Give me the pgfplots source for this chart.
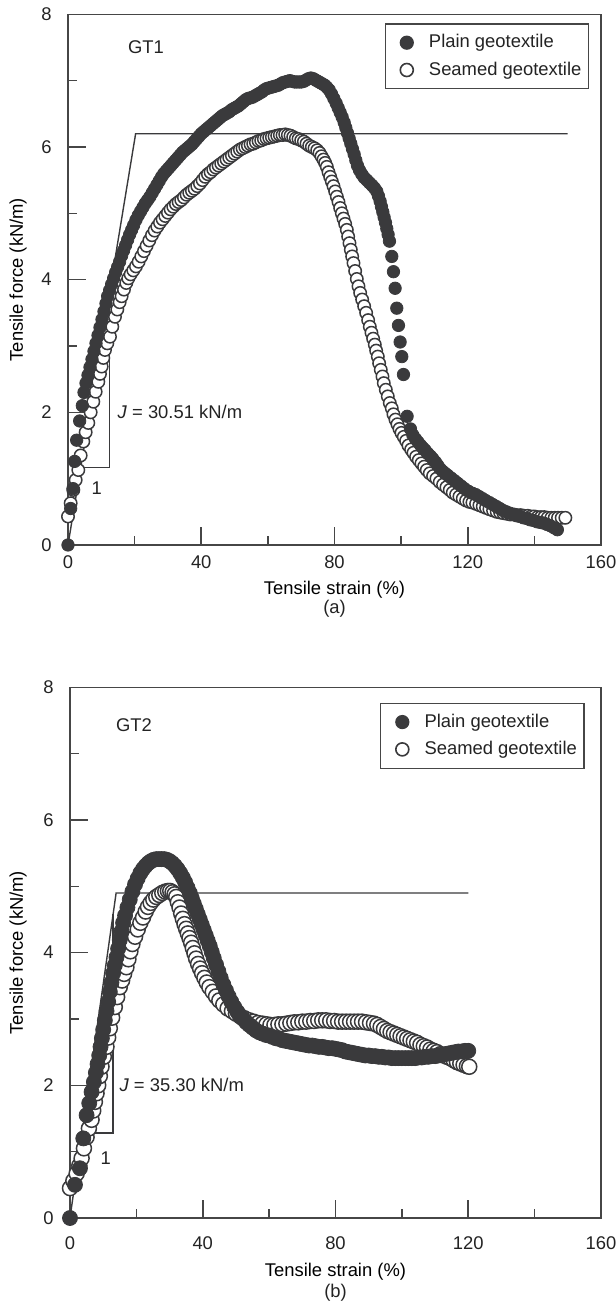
\documentclass[border=0pt]{standalone}
\usepackage{fontspec}
\setmainfont{Liberation Sans}
\usepackage{pgfplots}
\pgfplotsset{compat=1.18}
\definecolor{mk}{RGB}{58,58,60}
\definecolor{ax}{RGB}{70,70,70}
\definecolor{tx}{RGB}{35,35,35}
\newcommand{\fs}{\fontsize{9.2bp}{11bp}\selectfont}
\pgfplotsset{
 geo/.style={
  scale only axis, height=265.35bp,
  xmin=0,xmax=160,ymin=0,ymax=8,
  xtick={0,40,80,120,160}, ytick={0,2,4,6,8},
  minor x tick num=1, minor y tick num=1,
  tick align=inside, tick pos=left,
  major tick length=9bp, minor tick length=4.5bp,
  axis line style={draw=ax, line width=0.8bp},
  every tick/.style={draw=ax, line width=0.8bp},
  clip=false,
  /pgf/number format/assume math mode=true,
  tick label style={font=\fs, text=tx},
  yticklabel style={anchor=east, inner sep=0pt, xshift=-8bp},
  label style={font=\fs, text=tx},
  every axis x label/.style={at={(axis description cs:0.5,0)}, anchor=base},
  xlabel={Tensile strain (\%)}, ylabel={Tensile force (kN/m)},
  legend cell align=left,
  legend style={draw=ax, line width=0.6bp, font=\fs, text=tx, anchor=north east,
    inner xsep=0.5bp, inner ysep=4.3bp, row sep=3.5bp,
    nodes={inner xsep=3bp, inner ysep=1bp}},
  legend image code/.code={\path (-10bp,0bp) (7.8bp,0bp); \draw[#1] plot coordinates {(0bp,0bp)};},
 }
}
\begin{document}
\begin{tikzpicture}[font=\fs]
\path[use as bounding box] (0,0) rectangle (308bp,650.5bp);
% ---------------- (a) GT1 ----------------
\begin{axis}[geo, at={(34bp,378bp)}, anchor=south west, width=266.5bp,
  xticklabel style={anchor=base, yshift=-11.65bp},
  every axis x label/.append style={yshift=-25bp},
  every axis y label/.style={at={(axis description cs:0,0.5)}, xshift=-25bp, rotate=90, anchor=center},
  legend style={at={(0.9775,0.983)}}]
\addlegendimage{only marks, mark=*, mark size=3.25bp, mark options={draw=mk, fill=mk}}
\addlegendentry{Plain geotextile}
\addlegendimage{only marks, mark=*, mark size=3.25bp, mark options={draw=mk, fill=white, line width=0.8bp}}
\addlegendentry{Seamed geotextile}
\addplot[forget plot, draw=mk, line width=0.7bp] coordinates {(0,0) (20.3,6.2) (150,6.2)};
\addplot[forget plot, draw=mk, line width=0.7bp] coordinates {(3.83,1.17) (12.4,1.17) (12.4,3.78)};
% seamed geotextile
\addplot[forget plot, only marks, mark=*, mark size=3.1bp, mark options={draw=mk, fill=white, line width=0.75bp}] coordinates {
(0,0.43) (0.8,0.63) (1.6,0.83) (2.3,0.98) (3.1,1.13) (3.8,1.35) (4.6,1.56) (5.3,1.7) (6.1,1.84) (6.8,2.0)
(7.6,2.16) (8.3,2.31) (9.1,2.46) (9.6,2.58) (10.1,2.69) (10.6,2.82) (11.1,2.94) (11.8,3.04) (12.6,3.14) (13.3,3.29)
(14.1,3.44) (14.8,3.55) (15.5,3.66) (16.1,3.75) (16.8,3.85) (17.5,3.95) (18.1,4.02) (18.8,4.08) (19.6,4.14) (20.4,4.2)
(21.2,4.27) (22.0,4.35) (22.8,4.43) (23.6,4.51) (24.4,4.59) (25.2,4.67) (26.0,4.74) (26.8,4.8) (27.6,4.86) (28.4,4.91)
(29.2,4.96) (30.0,5.01) (30.8,5.06) (31.6,5.1) (32.4,5.14) (33.2,5.17) (34.0,5.2) (34.8,5.24) (35.6,5.28) (36.4,5.31)
(37.2,5.34) (38.0,5.37) (38.8,5.41) (39.6,5.45) (40.4,5.5) (41.2,5.55) (42.0,5.59) (42.8,5.62) (43.6,5.66) (44.4,5.69)
(45.2,5.72) (46.0,5.75) (46.8,5.78) (47.6,5.81) (48.4,5.84) (49.2,5.87) (50.0,5.9) (50.8,5.93) (51.6,5.96) (52.4,5.98)
(53.2,6.0) (54.0,6.02) (54.8,6.04) (55.6,6.05) (56.4,6.07) (57.2,6.09) (58.0,6.1) (58.8,6.12) (59.6,6.13) (60.4,6.14)
(61.2,6.15) (62.0,6.16) (62.8,6.17) (63.6,6.18) (64.4,6.18) (65.2,6.19) (66.0,6.18) (66.8,6.17) (67.6,6.15) (68.4,6.13)
(69.2,6.12) (70.0,6.1) (70.8,6.08) (71.6,6.05) (72.4,6.02) (73.2,6.0) (74.0,5.98) (74.8,5.95) (75.5,5.91) (76.1,5.86)
(76.7,5.81) (77.2,5.76) (77.7,5.7) (78.2,5.62) (78.7,5.55) (79.2,5.48) (79.7,5.41) (80.2,5.33) (80.7,5.25) (81.2,5.17)
(81.7,5.08) (82.2,5.0) (82.7,4.92) (83.2,4.84) (83.7,4.75) (84.1,4.65) (84.5,4.55) (84.9,4.45) (85.3,4.35) (85.7,4.25)
(86.2,4.13) (86.7,4.01) (87.2,3.9) (87.7,3.8) (88.3,3.7) (88.9,3.6) (89.5,3.5) (90.1,3.39) (90.6,3.29) (91.1,3.2)
(91.6,3.11) (92.1,3.02) (92.5,2.93) (93.0,2.84) (93.4,2.74) (93.9,2.64) (94.4,2.54) (94.8,2.44) (95.4,2.34) (96.0,2.24)
(96.6,2.14) (97.2,2.06) (97.7,1.97) (98.3,1.89) (98.9,1.82) (99.5,1.75) (100.1,1.69) (100.8,1.63) (101.5,1.57) (102.2,1.5)
(103.0,1.44) (103.7,1.39) (104.5,1.33) (105.3,1.28) (106.1,1.23) (106.9,1.18) (107.7,1.13) (108.6,1.08) (109.6,1.04) (110.6,1.0)
(111.6,0.95) (112.6,0.91) (113.6,0.87) (114.6,0.83) (115.5,0.79) (116.5,0.76) (117.5,0.73) (118.5,0.7) (119.5,0.67) (120.5,0.65)
(121.4,0.64) (122.5,0.62) (123.5,0.6) (124.5,0.58) (125.5,0.56) (126.5,0.54) (127.6,0.52) (128.7,0.5) (129.7,0.49) (130.7,0.48)
(131.8,0.47) (132.8,0.46) (133.8,0.46) (134.8,0.45) (135.9,0.45) (136.9,0.44) (138.0,0.44) (139.0,0.43) (140.0,0.43) (141.0,0.42)
(142.0,0.42) (143.0,0.42) (144.0,0.41) (145.1,0.41) (146.1,0.41) (147.1,0.41) (148.2,0.41) (149.3,0.41)
};
% plain geotextile
\addplot[forget plot, only marks, mark=*, mark size=3.1bp, mark options={draw=mk, fill=mk}] coordinates {
(0,0) (0.8,0.55) (1.5,0.85) (2.0,1.26) (2.6,1.58) (3.5,1.87) (4.3,2.1) (4.8,2.3) (5.4,2.44) (6.0,2.56)
(6.6,2.68) (7.2,2.8) (7.8,2.92) (8.4,3.04) (9.0,3.16) (9.6,3.28) (10.2,3.4) (10.8,3.52) (11.4,3.64) (11.9,3.75)
(12.5,3.84) (13.1,3.93) (13.7,4.02) (14.3,4.11) (14.9,4.19) (15.5,4.27) (16.1,4.36) (16.7,4.44) (17.3,4.52) (17.9,4.6)
(18.5,4.68) (19.1,4.75) (19.7,4.82) (20.4,4.9) (21.1,4.97) (21.8,5.03) (22.5,5.09) (23.2,5.15) (23.9,5.2) (24.6,5.25)
(25.3,5.31) (26.0,5.37) (26.7,5.43) (27.4,5.49) (28.1,5.55) (28.8,5.6) (29.5,5.64) (30.2,5.68) (30.9,5.72) (31.6,5.76)
(32.3,5.8) (33.0,5.84) (33.7,5.88) (34.4,5.92) (35.1,5.95) (35.8,5.98) (36.5,6.01) (37.2,6.04) (37.9,6.08) (38.6,6.12)
(39.3,6.16) (40.0,6.2) (40.7,6.23) (41.4,6.26) (42.1,6.29) (42.8,6.32) (43.5,6.35) (44.2,6.38) (44.9,6.41) (45.6,6.44)
(46.3,6.47) (47.0,6.49) (47.7,6.51) (48.4,6.53) (49.1,6.56) (49.8,6.58) (50.5,6.6) (51.2,6.62) (51.9,6.65) (52.6,6.68)
(53.3,6.71) (54.0,6.73) (54.7,6.74) (55.4,6.75) (56.1,6.77) (56.8,6.79) (57.5,6.81) (58.2,6.83) (58.9,6.86) (59.6,6.88)
(60.3,6.89) (61.0,6.9) (61.7,6.91) (62.4,6.92) (63.1,6.93) (63.8,6.95) (64.5,6.97) (65.2,6.98) (65.9,6.99) (66.6,7.0)
(67.3,6.99) (68.0,6.98) (68.7,6.98) (69.4,6.98) (70.1,6.98) (70.8,6.99) (71.5,7.01) (72.2,7.03) (72.9,7.04) (73.6,7.03)
(74.3,7.01) (75.0,6.99) (75.7,6.97) (76.4,6.95) (77.1,6.93) (77.7,6.9) (78.4,6.86) (79.1,6.8) (79.8,6.73) (80.5,6.66)
(81.1,6.59) (81.7,6.52) (82.3,6.45) (82.9,6.37) (83.4,6.29) (83.9,6.21) (84.4,6.13) (84.9,6.05) (85.4,5.97) (85.9,5.89)
(86.4,5.8) (86.9,5.72) (87.5,5.65) (88.2,5.59) (88.9,5.54) (89.7,5.5) (90.5,5.46) (91.3,5.42) (92.0,5.38) (92.7,5.33)
(93.2,5.26) (93.7,5.18) (94.1,5.1) (94.5,5.02) (94.9,4.94) (95.3,4.86) (95.7,4.77) (96.1,4.68) (96.5,4.58) (97.2,4.35)
(97.7,4.12) (98.2,3.87) (98.7,3.57) (99.2,3.31) (99.7,3.06) (100.2,2.84) (100.7,2.57) (101.8,1.94)
(102.8,1.75) (103.5,1.66) (104.3,1.6) (105.1,1.55) (105.9,1.5) (106.6,1.46) (107.2,1.43) (108.0,1.38) (108.8,1.34) (109.5,1.3)
(110.3,1.25) (111.0,1.2) (111.7,1.15) (112.5,1.11) (113.2,1.08) (114.0,1.05) (115.0,1.01) (116.0,0.97) (117.0,0.93) (118.0,0.89)
(119.0,0.85) (120.2,0.81) (121.4,0.78) (122.4,0.76) (123.4,0.73) (124.4,0.7) (125.4,0.67) (126.5,0.64) (127.5,0.61) (128.6,0.58)
(129.6,0.55) (130.6,0.52) (131.6,0.5) (132.6,0.48) (133.6,0.46) (134.7,0.44) (135.7,0.43) (136.7,0.41) (137.7,0.4) (138.7,0.38)
(139.7,0.37) (140.8,0.35) (141.8,0.34) (142.8,0.33) (143.8,0.31) (144.8,0.29) (145.9,0.26) (146.9,0.23)
};
\node[text=tx] at (axis cs:23.4,7.5) {GT1};
\node[text=tx, anchor=west, inner sep=0pt] at (axis cs:14.8,2.01) {\textit{J} = 30.51 kN/m};
\node[text=tx] at (axis cs:8.6,0.86) {1};
\node[text=tx, anchor=base] at ([yshift=-34.5bp]axis description cs:0.5,0) {(a)};
\end{axis}
% ---------------- (b) GT2 ----------------
\begin{axis}[geo, at={(35bp,41.5bp)}, anchor=south west, width=265.5bp,
  xticklabel style={anchor=base, yshift=-15.8bp},
  every axis x label/.append style={yshift=-29.2bp},
  every axis y label/.style={at={(axis description cs:0,0.5)}, xshift=-26bp, rotate=90, anchor=center},
  legend style={at={(0.969,0.971)}}]
\addlegendimage{only marks, mark=*, mark size=3.25bp, mark options={draw=mk, fill=mk}}
\addlegendentry{Plain geotextile}
\addlegendimage{only marks, mark=*, mark size=3.25bp, mark options={draw=mk, fill=white, line width=0.8bp}}
\addlegendentry{Seamed geotextile}
\addplot[forget plot, draw=mk, line width=0.7bp] coordinates {(0,0) (13.9,4.9) (120,4.9)};
\addplot[forget plot, draw=mk, line width=0.7bp] coordinates {(3.63,1.28) (13.0,1.28) (13.0,4.59)};
% seamed geotextile
\addplot[forget plot, only marks, mark=*, mark size=3.75bp, mark options={draw=mk, fill=white, line width=0.75bp}] coordinates {
(0,0.45) (1.0,0.56) (2.0,0.67) (2.8,0.79) (3.5,0.9) (4.2,1.05) (5.0,1.22) (5.7,1.35) (6.5,1.48) (7.0,1.62)
(7.5,1.75) (8.0,1.88) (8.5,2.0) (9.0,2.14) (9.5,2.28) (10.2,2.43) (11.0,2.58) (11.5,2.72) (12.0,2.86) (12.7,3.02)
(13.5,3.18) (14.2,3.33) (15.0,3.48) (15.7,3.58) (16.3,3.68) (17.0,3.78) (17.6,3.9) (18.2,4.02) (18.8,4.13) (19.6,4.24)
(20.4,4.35) (21.2,4.45) (22.0,4.53) (22.8,4.62) (23.5,4.69) (24.3,4.75) (25.1,4.8) (26.0,4.84) (26.9,4.87) (27.8,4.9)
(28.7,4.92) (29.5,4.93) (30.2,4.93) (30.9,4.91) (31.5,4.88) (32.0,4.84) (32.5,4.76) (33.0,4.68) (33.5,4.59) (34.0,4.51)
(34.5,4.43) (35.0,4.36) (35.5,4.29) (36.0,4.22) (36.5,4.15) (37.0,4.07) (37.5,3.99) (38.0,3.91) (38.6,3.83) (39.2,3.76)
(39.8,3.69) (40.5,3.62) (41.2,3.55) (42.0,3.48) (43.0,3.41) (44.0,3.34) (45.0,3.28) (46.2,3.22) (47.5,3.16) (48.8,3.12)
(50.0,3.08) (51.3,3.04) (52.6,3.01) (54.0,2.98) (55.3,2.96) (56.6,2.94) (58.0,2.93) (59.2,2.92) (60.4,2.91) (61.6,2.91)
(62.8,2.92) (64.0,2.92) (65.2,2.93) (66.4,2.94) (67.6,2.95) (68.8,2.95) (70.0,2.96) (71.2,2.96) (72.4,2.97) (73.6,2.97)
(74.8,2.98) (76.0,2.98) (77.2,2.98) (78.4,2.97) (79.6,2.97) (80.8,2.96) (82.0,2.96) (83.2,2.96) (84.4,2.96) (85.6,2.96)
(86.8,2.96) (88.0,2.96) (89.2,2.95) (90.4,2.94) (91.6,2.93) (92.6,2.91) (93.6,2.88) (94.6,2.85) (95.6,2.82) (96.6,2.8)
(97.6,2.78) (98.6,2.76) (99.6,2.74) (100.6,2.72) (101.6,2.7) (102.6,2.68) (103.6,2.66) (104.6,2.64) (105.6,2.61) (106.6,2.59)
(107.6,2.57) (108.6,2.54) (109.6,2.52) (110.6,2.5) (111.6,2.47) (112.6,2.45) (113.6,2.43) (114.6,2.41) (115.6,2.38) (116.6,2.35)
(117.6,2.33) (118.6,2.31) (119.6,2.29) (120.3,2.28)
};
% plain geotextile
\addplot[forget plot, only marks, mark=*, mark size=3.75bp, mark options={draw=mk, fill=mk}] coordinates {
(0,0) (1.5,0.5) (3.0,0.75) (4.0,1.2) (5.0,1.55) (5.8,1.73) (6.5,1.9) (7.2,2.05) (7.8,2.19) (8.3,2.32)
(8.8,2.45) (9.2,2.58) (9.6,2.71) (10.0,2.84) (10.5,2.98) (11.0,3.12) (11.5,3.26) (12.0,3.41) (12.5,3.55) (13.0,3.69)
(13.5,3.81) (14.0,3.93) (14.5,4.06) (15.0,4.19) (15.5,4.32) (16.0,4.45) (16.6,4.56) (17.3,4.68) (18.0,4.8) (18.8,4.92)
(19.6,5.03) (20.4,5.12) (21.2,5.2) (22.0,5.26) (22.8,5.31) (23.6,5.35) (24.4,5.38) (25.2,5.4) (26.0,5.41) (26.8,5.41)
(27.6,5.41) (28.4,5.41) (29.2,5.4) (30.0,5.38) (30.8,5.35) (31.6,5.31) (32.4,5.26) (33.2,5.2) (34.0,5.13) (34.7,5.06)
(35.4,4.98) (36.1,4.9) (36.7,4.82) (37.3,4.74) (37.9,4.66) (38.5,4.58) (39.1,4.5) (39.7,4.42) (40.3,4.34) (40.9,4.26)
(41.5,4.18) (42.1,4.1) (42.7,4.01) (43.3,3.92) (44.0,3.82) (44.7,3.72) (45.4,3.62) (46.2,3.52) (47.0,3.43) (47.8,3.34)
(48.6,3.26) (49.5,3.18) (50.4,3.11) (51.3,3.05) (52.2,3.0) (53.1,2.95) (54.0,2.91) (55.0,2.87) (56.0,2.83) (57.0,2.8)
(58.0,2.78) (59.0,2.76) (60.0,2.75) (61.0,2.73) (62.0,2.71) (63.0,2.7) (64.0,2.68) (65.0,2.67) (66.0,2.66) (67.0,2.65)
(68.0,2.64) (69.0,2.63) (70.0,2.62) (71.0,2.61) (72.0,2.6) (73.0,2.6) (74.0,2.59) (75.0,2.58) (76.0,2.58) (77.0,2.57)
(78.0,2.56) (79.0,2.56) (80.0,2.55) (81.0,2.54) (82.0,2.53) (83.0,2.51) (84.0,2.5) (85.0,2.49) (86.0,2.48) (87.0,2.47)
(88.0,2.46) (89.0,2.45) (90.0,2.45) (91.0,2.44) (92.0,2.44) (93.0,2.43) (94.0,2.43) (95.0,2.42) (96.0,2.42) (97.0,2.41)
(98.0,2.41) (99.0,2.41) (100.0,2.41) (101.0,2.41) (102.0,2.41) (103.0,2.41) (104.0,2.41) (105.0,2.42) (106.0,2.42) (107.0,2.43)
(108.0,2.43) (109.0,2.44) (110.0,2.44) (111.0,2.45) (112.0,2.46) (113.0,2.47) (114.0,2.48) (115.0,2.49) (116.0,2.5) (117.0,2.51)
(118.0,2.51) (119.0,2.52) (120.0,2.52)
};
\node[text=tx] at (axis cs:19.3,7.43) {GT2};
\node[text=tx, anchor=west, inner sep=0pt] at (axis cs:14.8,2.0) {\textit{J} = 35.30 kN/m};
\node[text=tx] at (axis cs:10.8,0.9) {1};
\node[text=tx, anchor=base] at ([yshift=-39.5bp]axis description cs:0.5,0) {(b)};
\end{axis}
\end{tikzpicture}
\end{document}
